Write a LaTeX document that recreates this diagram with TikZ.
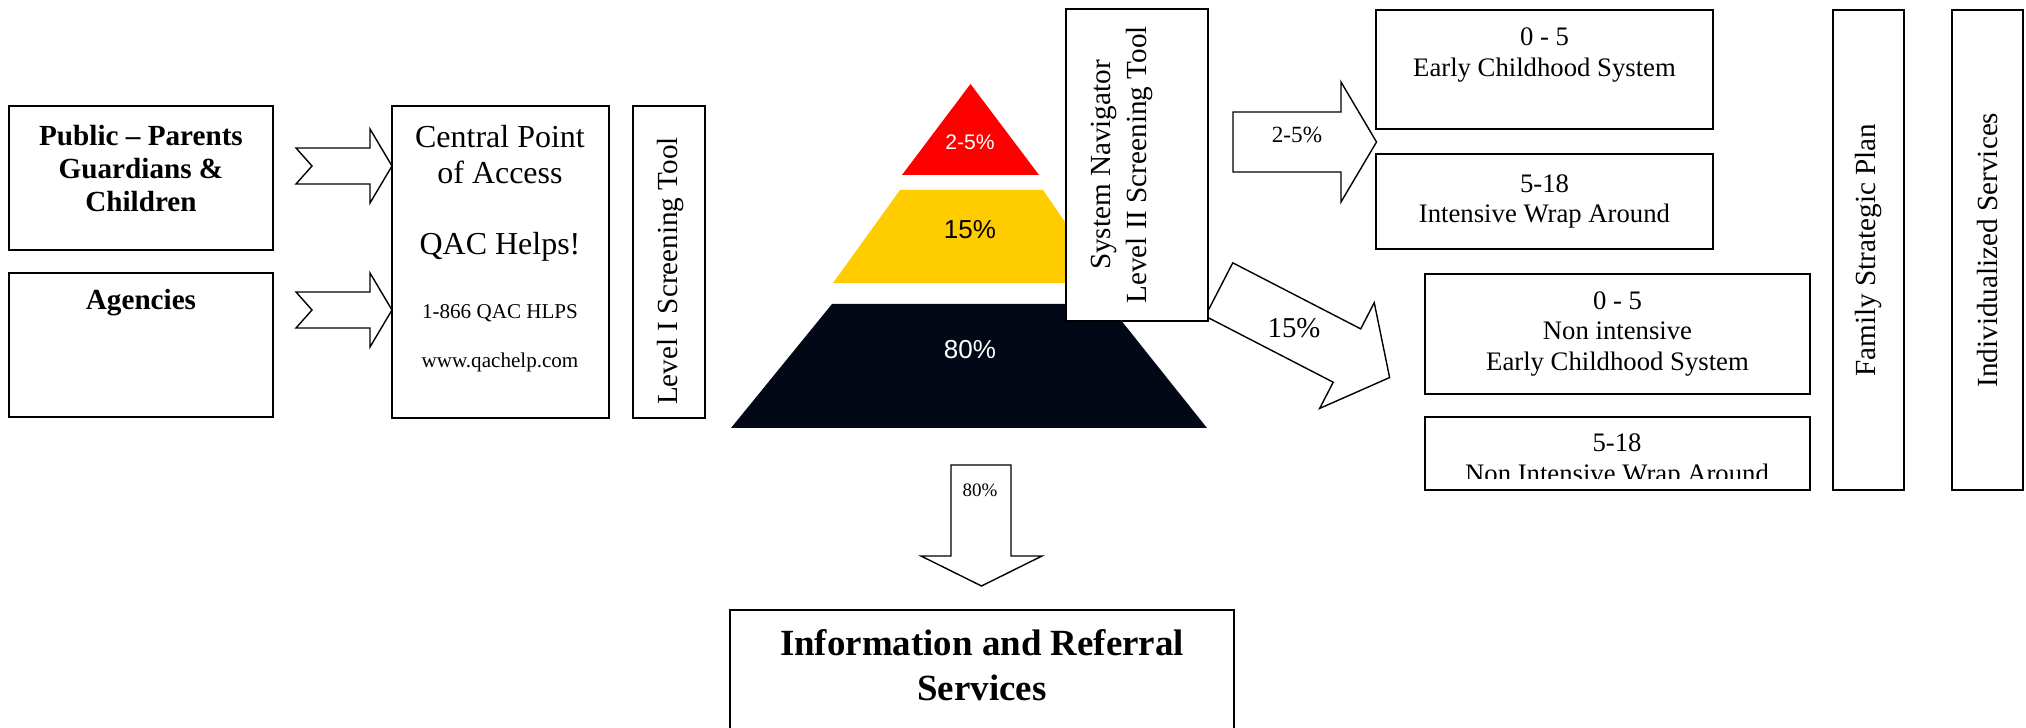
\documentclass[tikz,border=0pt]{standalone}
\usepackage{fontspec}
\setmainfont{Liberation Serif}
\setsansfont{Liberation Sans}
\usepackage{tikz}
\usetikzlibrary{calc}
\definecolor{pyrred}{RGB}{255,0,0}
\definecolor{pyryellow}{RGB}{255,204,0}
\definecolor{pyrdark}{RGB}{2,8,21}
\newcommand{\setfs}[2]{\fontsize{#1}{#2}\selectfont}
\tikzstyle{blk}=[draw, fill=white, line width=0.5pt, inner sep=0pt, align=center]
\tikzstyle{vblk}=[blk, rotate=90]
\tikzstyle{lbl}=[inner sep=0pt, align=center]
\tikzstyle{blkarrow}=[draw, fill=white, line width=0.4pt, line join=miter]
\tikzstyle{pyr}=[inner sep=0pt]

\begin{document}
\begin{tikzpicture}
\useasboundingbox (0,0) rectangle (20.26,-7.28);
% who comes in
\node[blk, minimum width=2.64cm, minimum height=1.44cm] (public) at (1.41,-1.78) {};
\node[lbl, font=\setfs{8.3}{9.5}\bfseries] (publictxt) at (1.41,-1.685) {Public \textendash{} Parents\\Guardians \&\\Children};
\node[blk, minimum width=2.64cm, minimum height=1.44cm] (agencies) at (1.41,-3.45) {};
\node[lbl, font=\setfs{8.3}{9.5}\bfseries] (agenciestxt) at (1.41,-3.03) {Agencies};
\foreach \y in {-1.66,-3.10}
  \draw[blkarrow] (2.96,\y+0.18) -- (3.12,\y) -- (2.96,\y-0.18) -- (3.70,\y-0.18) -- (3.70,\y-0.37) -- (3.92,\y) -- (3.70,\y+0.37) -- (3.70,\y+0.18) -- cycle;
% central point of access
\node[blk, minimum width=2.17cm, minimum height=3.12cm] (cpa) at (5.005,-2.62) {};
\node[lbl, font=\setfs{9.1}{10}] (cpatxt) at (5.00,-1.545) {Central Point\\of Access};
\node[lbl, font=\setfs{9.1}{10}] (helps) at (5.00,-2.47) {QAC Helps!};
\node[lbl, font=\setfs{6}{7}] (phone) at (5.00,-3.13) {1-866 QAC HLPS};
\node[lbl, font=\setfs{6}{7}] (web) at (5.00,-3.62) {www.qachelp.com};
\node[vblk, minimum width=3.12cm, minimum height=0.72cm] (lvl1) at (6.69,-2.62) {};
\node[lbl, rotate=90, font=\setfs{8.3}{10}] (lvl1txt) at (6.71,-2.71) {Level I Screening Tool};
% pyramid
\fill[pyrred] (9.705,-0.84) -- (10.39,-1.75) -- (9.02,-1.75) -- cycle;
\fill[pyryellow] (9.00,-1.90) -- (10.43,-1.90) -- (11.07,-2.83) -- (8.33,-2.83) -- cycle;
\fill[pyrdark] (8.32,-3.04) -- (11.08,-3.04) -- (12.07,-4.28) -- (7.31,-4.28) -- cycle;
\node[pyr, font=\sffamily\setfs{6}{7}, text=white] (tier1) at (9.70,-1.42) {2-5\%};
\node[pyr, font=\sffamily\setfs{7.4}{9}] (tier2) at (9.70,-2.30) {15\%};
\node[pyr, font=\sffamily\setfs{7.4}{9}, text=white] (tier3) at (9.70,-3.50) {80\%};
% 15% goes down to the non intensive services
\begin{scope}[shift={(12.19,-2.895)}, rotate=-27.3]
\draw[blkarrow] (0,0.30) -- (1.44,0.30) -- (1.44,0.595) -- (1.92,0) -- (1.44,-0.595) -- (1.44,-0.30) -- (0,-0.30) -- cycle;
\end{scope}
\node[lbl, font=\setfs{8.2}{10}] (pct15) at (12.94,-3.28) {15\%};
\node[blk, minimum width=1.42cm, minimum height=3.12cm] (nav) at (11.37,-1.65) {};
\node[lbl, rotate=90, font=\setfs{8.3}{10.2}] (navtxt) at (11.22,-1.65) {System Navigator\\Level II Screening Tool};
\draw[blkarrow] (12.33,-1.12) -- (13.41,-1.12) -- (13.41,-0.82) -- (13.765,-1.42) -- (13.41,-2.02) -- (13.41,-1.72) -- (12.33,-1.72) -- cycle;
\node[lbl, font=\setfs{6.6}{8}] (pct25) at (12.97,-1.35) {2-5\%};
% services
\node[blk, minimum width=3.37cm, minimum height=1.19cm] (early) at (15.445,-0.695) {};
\node[lbl, font=\setfs{7.6}{8.8}] (earlytxt) at (15.445,-0.55) {0 - 5\\Early Childhood System};
\node[blk, minimum width=3.37cm, minimum height=0.95cm, font=\setfs{7.6}{8.8}] (intensive) at (15.445,-2.015) {5-18\\Intensive Wrap Around};
\node[blk, minimum width=3.85cm, minimum height=1.20cm, font=\setfs{7.6}{8.8}] (nonint) at (16.175,-3.34) {0 - 5\\Non intensive\\Early Childhood System};
\node[blk, minimum width=3.85cm, minimum height=0.73cm] (nonwrap) at (16.175,-4.535) {};
\begin{scope}
\clip (14.25,-4.17) rectangle (18.10,-4.79);
\node[lbl, font=\setfs{7.6}{8.8}] (nonwraptxt) at (16.17,-4.61) {5-18\\Non Intensive Wrap Around};
\end{scope}
\node[vblk, minimum width=4.80cm, minimum height=0.71cm, font=\setfs{8.3}{10}] (plan) at (18.685,-2.50) {Family Strategic Plan};
\node[vblk, minimum width=4.80cm, minimum height=0.71cm, font=\setfs{8.3}{10}] (indiv) at (19.875,-2.50) {Individualized Services};
% 80% to information and referral
\draw[blkarrow] (9.51,-4.65) -- (10.11,-4.65) -- (10.11,-5.56) -- (10.42,-5.56) -- (9.815,-5.86) -- (9.21,-5.56) -- (9.51,-5.56) -- cycle;
\node[lbl, font=\setfs{5.4}{6.5}] (pct80) at (9.80,-4.90) {80\%};
\node[blk, minimum width=5.04cm, minimum height=2cm] (info) at (9.82,-7.10) {};
\node[lbl, font=\setfs{10.5}{12.8}\bfseries] (infotxt) at (9.82,-6.655) {Information and Referral\\Services};
\end{tikzpicture}
\end{document}
